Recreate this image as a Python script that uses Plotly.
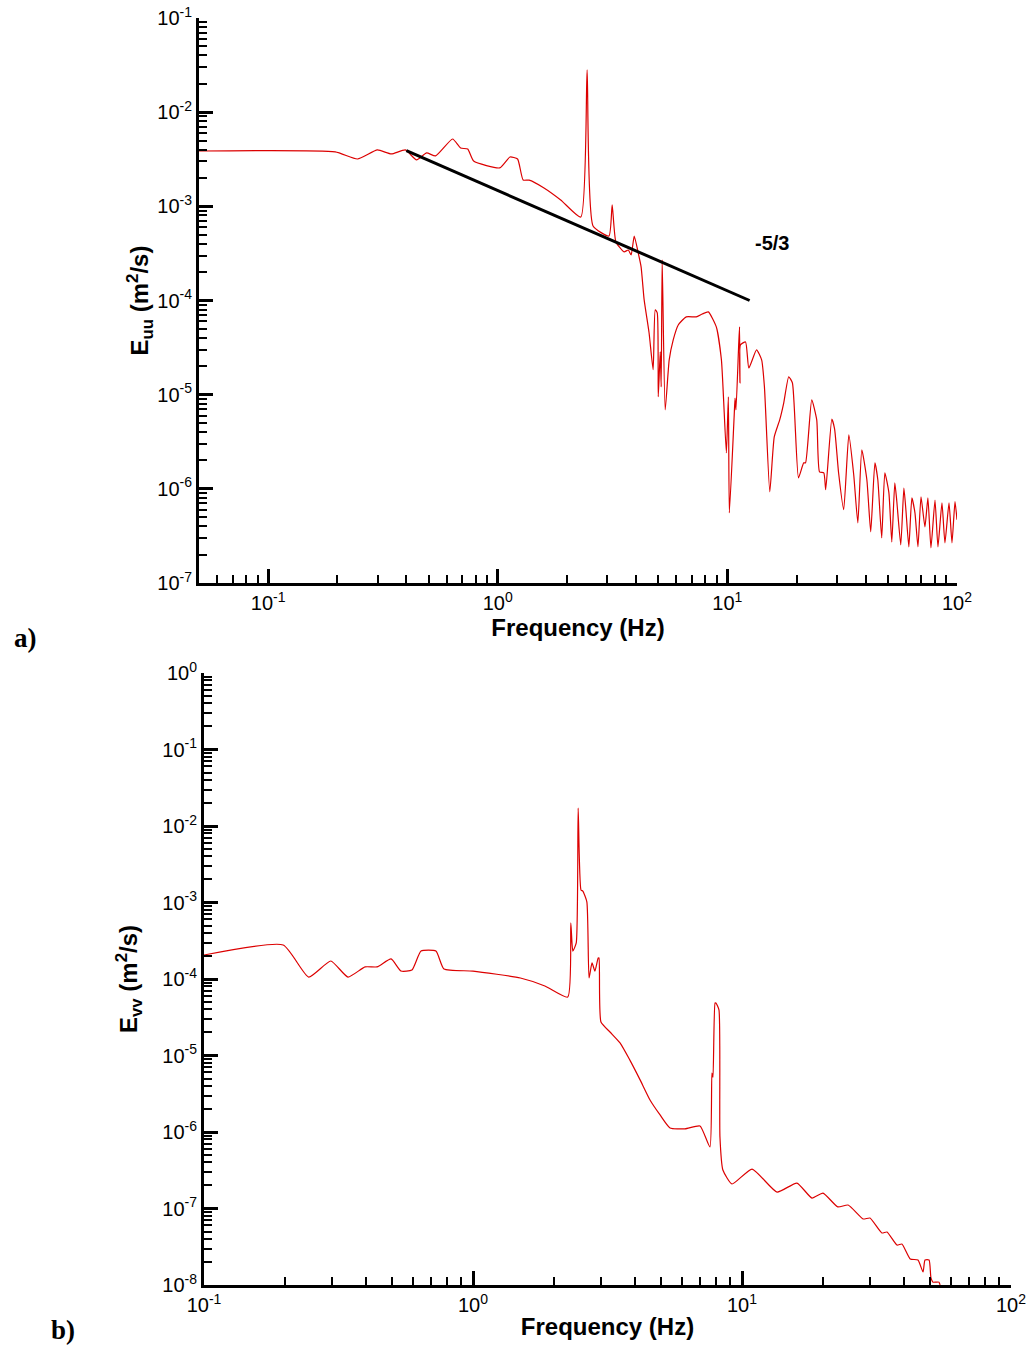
import numpy as np
import plotly.graph_objects as go

# ---- panel a) : E_uu spectrum ----
freq_a = [0.05, 0.196, 0.245, 0.299, 0.344, 0.396, 0.443, 0.490, 0.536, 0.636,
          0.689, 0.740, 0.785, 1.02, 1.13, 1.22, 1.29, 1.37, 1.59, 1.88,
          2.30, 2.45, 2.60, 3.05, 3.15, 3.27, 3.55, 3.70, 3.81, 3.93,
          4.09, 4.21, 4.34, 4.56, 4.75, 4.85, 4.95, 5.00, 5.10, 5.15,
          5.20, 5.36, 5.58, 5.81, 6.11, 6.62, 7.32, 7.78, 8.26, 8.95,
          9.42, 9.90, 10.1, 10.2, 10.7, 10.8, 10.9, 11.2, 11.3, 11.35,
          11.4, 12.0, 12.4, 13.4, 14.1, 14.5, 15.3, 16.0, 16.9, 17.6,
          18.5, 19.2, 20.4, 21.5, 21.9, 23.3, 24.5, 25.2, 26.3, 26.8,
          28.5, 29.3, 30.5, 32.1, 33.8, 35.5, 37.0, 38.5, 40.5, 42.1,
          43.9, 45.2, 47.0, 48.5, 50.5, 52.0, 53.6, 54.7, 56.9, 58.7,
          59.9, 61.7, 63.6, 65.6, 67.6, 69.7, 72.5, 74.7, 77.0, 80.2,
          82.6, 86.0, 88.6, 92.3, 95.1, 98.0, 100.0]
euu = [3.87e-3, 3.78e-3, 3.18e-3, 3.97e-3, 3.60e-3, 3.97e-3, 3.11e-3, 3.69e-3, 3.43e-3, 5.19e-3,
       4.16e-3, 4.06e-3, 3.03e-3, 2.56e-3, 3.34e-3, 3.18e-3, 1.90e-3, 1.90e-3, 1.57e-3, 1.17e-3,
       7.70e-4, 2.81e-2, 6.19e-4, 4.84e-4, 1.04e-3, 4.19e-4, 3.28e-4, 3.44e-4, 3.05e-4, 4.84e-4,
       3.20e-4, 2.28e-4, 1.02e-4, 4.54e-5, 1.84e-5, 7.96e-5, 7.40e-5, 9.5e-6, 2.85e-5, 1.21e-5,
       2.70e-4, 6.9e-6, 2.34e-5, 3.82e-5, 5.5e-5, 6.7e-5, 6.7e-5, 7.2e-5, 7.57e-5, 5.25e-5,
       2.34e-5, 2.41e-6, 9.5e-6, 5.56e-7, 5.8e-6, 9.2e-6, 6.9e-6, 3.38e-5, 5.25e-5, 1.33e-5,
       3.38e-5, 3.63e-5, 1.92e-5, 2.99e-5, 2.34e-5, 1.21e-5, 9.3e-7, 3.56e-6, 5.4e-6, 8.2e-6,
       1.55e-5, 1.33e-5, 1.31e-6, 1.89e-6, 1.89e-6, 8.8e-6, 5.4e-6, 1.51e-6, 1.48e-6, 9.8e-7,
       5.5e-6, 4.34e-6, 1.48e-6, 6.0e-7, 3.74e-6, 1.41e-6, 4.35e-7, 2.59e-6, 1.25e-6, 3.49e-7,
       1.89e-6, 1.25e-6, 3.01e-7, 1.48e-6, 9.1e-7, 2.73e-7, 1.16e-6, 7.3e-7, 2.54e-7, 1.02e-6,
       6.0e-7, 2.42e-7, 8.0e-7, 5.56e-7, 2.42e-7, 8.2e-7, 3.94e-7, 8.0e-7, 2.36e-7, 7.6e-7,
       2.42e-7, 7.1e-7, 2.67e-7, 7.1e-7, 2.67e-7, 7.3e-7, 4.69e-7]

# reference slope line
slope_f = [0.40, 12.5]
slope_e = [3.9e-3, 1.0e-4]

# ---- panel b) : E_vv spectrum ----
freq_b = [0.1, 0.197, 0.245, 0.296, 0.343, 0.397, 0.440, 0.496, 0.540, 0.593,
          0.641, 0.728, 0.780, 1.0, 1.50, 1.85, 2.25, 2.31, 2.35, 2.42,
          2.46, 2.52, 2.56, 2.65, 2.70, 2.77, 2.84, 2.92, 2.94,
          2.99, 3.23, 3.52, 3.83, 4.18, 4.55, 4.96, 5.40, 6.14, 6.98,
          7.60, 7.73, 7.80, 7.94, 8.00, 8.21, 8.28, 8.49, 9.18, 10.9,
          13.5, 16.0, 18.2, 20.0, 22.7, 24.8, 28.2, 29.9, 33.1, 34.6,
          37.7, 39.3, 42.2, 45.1, 47.1, 47.9, 49.6, 50.4, 51.3, 52.6,
          54.0, 54.5]
evv = [2.06e-4, 2.78e-4, 1.06e-4, 1.72e-4, 1.06e-4, 1.44e-4, 1.44e-4, 1.83e-4, 1.27e-4, 1.31e-4,
       2.32e-4, 2.32e-4, 1.35e-4, 1.27e-4, 1.03e-4, 8.1e-5, 5.8e-5, 5.4e-4, 2.32e-4, 2.96e-4,
       1.72e-2, 1.46e-3, 1.41e-3, 1.02e-3, 1.03e-4, 1.62e-4, 1.27e-4, 1.88e-4, 1.88e-4,
       2.74e-5, 2.03e-5, 1.46e-5, 8.7e-6, 4.8e-6, 2.62e-6, 1.67e-6, 1.13e-6, 1.1e-6, 1.2e-6,
       6.4e-7, 5.9e-6, 5.2e-6, 4.86e-5, 4.86e-5, 3.94e-5, 8.6e-7, 3.18e-7, 2.09e-7, 3.28e-7,
       1.64e-7, 2.15e-7, 1.37e-7, 1.59e-7, 1.05e-7, 1.11e-7, 7.3e-8, 7.5e-8, 4.79e-8, 4.93e-8,
       3.33e-8, 3.43e-8, 2.19e-8, 2.12e-8, 1.48e-8, 2.12e-8, 2.12e-8, 1.24e-8, 1.09e-8, 1.09e-8,
       1.09e-8, 1.0e-8]

W, H = 1034, 1348
RED = "rgb(220,0,0)"
FONT = "Liberation Sans, Arial"


def px_dom(a, b, total, flip=False):
    if flip:
        return [1 - b / total, 1 - a / total]
    return [a / total, b / total]


def log_axis(lo_exp, hi_exp, domain, anchor, title):
    vals = [10.0 ** e for e in range(lo_exp, hi_exp + 1)]
    text = ["10<sup>%d</sup>" % e for e in range(lo_exp, hi_exp + 1)]
    minor_vals = [m * 10.0 ** e for e in range(lo_exp - 1, hi_exp + 1) for m in range(2, 10)]
    return dict(type="log", domain=domain, anchor=anchor,
                tickmode="array", tickvals=vals, ticktext=text,
                ticks="inside", ticklen=14, tickwidth=3, tickcolor="black",
                minor=dict(tickmode="array", tickvals=minor_vals, ticks="inside",
                           ticklen=8, tickwidth=1.5, tickcolor="black"),
                showline=True, linewidth=3, linecolor="black", mirror=False,
                showgrid=False, zeroline=False, automargin=False,
                ticklabeloverflow="allow",
                tickfont=dict(family=FONT, size=20, color="black"),
                title=dict(text=title, font=dict(family=FONT, size=24, color="black", weight="bold")))


fig = go.Figure()
fig.add_trace(go.Scatter(x=freq_a, y=euu, mode="lines",
                         line=dict(color=RED, width=1.2, shape="spline", smoothing=0.5),
                         xaxis="x", yaxis="y", showlegend=False))
fig.add_trace(go.Scatter(x=slope_f, y=slope_e, mode="lines", line=dict(color="black", width=3),
                         xaxis="x", yaxis="y", showlegend=False))
fig.add_trace(go.Scatter(x=freq_b, y=evv, mode="lines",
                         line=dict(color=RED, width=1.2, shape="spline", smoothing=0.5),
                         xaxis="x2", yaxis="y2", showlegend=False))

xa = log_axis(-1, 2, px_dom(199, 957, W), "y", "Frequency (Hz)")
xa["range"] = [np.log10(0.05), 2]
xa["title"]["standoff"] = 6
ya = log_axis(-7, -1, px_dom(18, 583, H, flip=True), "x", "E<sub>uu</sub> (m<sup>2</sup>/s)")
ya["range"] = [-7, -1]
ya["title"]["standoff"] = 2

xb = log_axis(-1, 2, px_dom(204, 1011, W), "y2", "Frequency (Hz)")
xb["range"] = [-1, 2]
xb["title"]["standoff"] = 4
yb = log_axis(-8, 0, px_dom(673, 1285, H, flip=True), "x2", "E<sub>vv</sub> (m<sup>2</sup>/s)")
yb["range"] = [-8, 0]
yb["title"]["standoff"] = 18

fig.update_layout(
    width=W, height=H,
    margin=dict(l=0, r=0, t=0, b=0),
    paper_bgcolor="white", plot_bgcolor="white",
    xaxis=xa, yaxis=ya, xaxis2=xb, yaxis2=yb,
    annotations=[
        dict(x=np.log10(15.6), y=np.log10(4.1e-4), xref="x", yref="y", text="<b>-5/3</b>",
             showarrow=False, font=dict(family=FONT, size=20, color="black")),
        dict(x=25 / W, y=1 - 638 / H, xref="paper", yref="paper", text="<b>a)</b>",
             xanchor="center", yanchor="middle", showarrow=False,
             font=dict(family="Liberation Serif, Times New Roman", size=27, color="black")),
        dict(x=63 / W, y=1 - 1330 / H, xref="paper", yref="paper", text="<b>b)</b>",
             xanchor="center", yanchor="middle", showarrow=False,
             font=dict(family="Liberation Serif, Times New Roman", size=27, color="black")),
    ],
)

# drop the default page margin so the figure sits at the window's top-left corner
fig.write_html("out.html", config={"displayModeBar": False},
               post_script="document.body.style.margin='0';")
